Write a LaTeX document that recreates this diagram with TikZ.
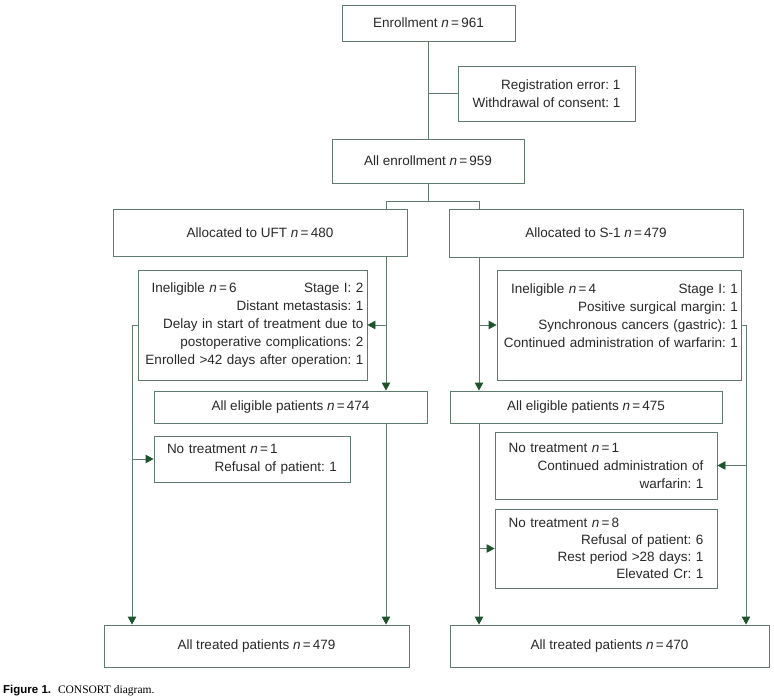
\documentclass[tikz,border=0pt]{standalone}
\usepackage{fontspec}
\setmainfont{Liberation Sans}
\newfontfamily\capserif{Liberation Serif}
\usepackage{tikz}
\usetikzlibrary{calc}
\usetikzlibrary{arrows.meta}
\frenchspacing
\hyphenpenalty=10000

\definecolor{boxgray}{RGB}{96,122,110}
\definecolor{arrowgreen}{RGB}{28,84,44}
\definecolor{txtgray}{RGB}{40,40,40}

\newcommand{\ncount}[1]{{\itshape n}\,=\,#1}

\tikzset{
	box/.style={rectangle, draw=boxgray, line width=0.9pt, text=txtgray, inner sep=0pt,
		font=\fontsize{13.5}{18}\selectfont},
	flow/.style={draw=boxgray, line width=0.9pt},
	arr/.style={flow, -{Triangle[length=8pt,width=8.5pt,color=arrowgreen]}}
}

\begin{document}
\begin{tikzpicture}[x=1pt, y=-1pt]
				\useasboundingbox (0,0) rectangle (774,698);
				
				\node[box, minimum width=173pt, minimum height=36pt] (A) at (428.5,23) {Enrollment \ncount{961}};
				\node[box, minimum width=177pt, minimum height=55pt, align=right] (B) at (546.5,93.5) {Registration error: 1\\Withdrawal of consent: 1};
				\node[box, minimum width=192pt, minimum height=44pt] (C) at (428,161) {All enrollment \ncount{959}};
				\node[box, minimum width=294pt, minimum height=47pt] (D) at (260,232.5) {Allocated to UFT \ncount{480}};
				\node[box, minimum width=294pt, minimum height=48pt] (E) at (596,233) {Allocated to S-1 \ncount{479}};
				\node[box, minimum width=229pt, minimum height=110pt, text width=222pt, align=right] (F) at (252.5,325)
					{\hspace*{10pt}Ineligible \ncount{6}\hfill Stage I: 2\\Distant metastasis: 1\\Delay in start of treatment due to\\postoperative complications: 2\\Enrolled >42 days after operation: 1};
				\node[box, minimum width=244pt, minimum height=110pt, text width=238pt, align=right] (G) at (619,325)
					{\hspace*{11pt}Ineligible \ncount{4}\hfill Stage I: 1\\Positive surgical margin: 1\\Synchronous cancers (gastric): 1\\Continued administration of warfarin: 1\\\mbox{}};
				\node[box, minimum width=273pt, minimum height=32pt] (H) at (290.5,407) {All eligible patients \ncount{474}};
				\node[box, minimum width=272pt, minimum height=32pt] (I) at (586,407) {All eligible patients \ncount{475}};
				\node[box, minimum width=196pt, minimum height=46pt, text width=170pt, align=right] (J) at (252,459)
					{No treatment \ncount{1}\hfill\mbox{}\\Refusal of patient: 1};
				\node[box, minimum width=222pt, minimum height=67pt, text width=195pt, align=right] (K) at (606,465.5)
					{No treatment \ncount{1}\hfill\mbox{}\\Continued administration of\\warfarin: 1};
				\node[box, minimum width=222pt, minimum height=79pt, text width=195pt, align=right, font=\fontsize{13.5}{17}\selectfont] (L) at (606,548.5)
					{No treatment \ncount{8}\hfill\mbox{}\\Refusal of patient: 6\\Rest period >28 days: 1\\Elevated Cr: 1};
				\node[box, minimum width=305pt, minimum height=42pt] (M) at (256.5,646) {All treated patients \ncount{479}};
				\node[box, minimum width=319pt, minimum height=42pt] (N) at (609.5,646) {All treated patients \ncount{470}};
				
				\node[anchor=west, inner sep=0pt, font=\fontsize{11.5}{13}\selectfont] (fig) at (3,691)
					{\textbf{Figure 1.}\hspace{0.6em}{\capserif CONSORT diagram.}};
				
				% flow lines
				\coordinate (s) at (428,201);
				\coordinate (uL) at (386,0);
				\coordinate (uO) at (132,0);
				\coordinate (sL) at (479,0);
				\coordinate (sO) at (746,0);
				
				\draw[flow] (A.south -| C.north) -- (C.north);
				\draw[flow] (B.west -| C.north) -- (B.west);
				\draw[flow] (C.south) -- (s) -| (D.north -| uL);
				\draw[flow] (s) -| (E.north -| sL);
				
				\draw[arr] (D.south -| uL) -- (H.north -| uL);
				\draw[arr] (F.east -| uL) -- (F.east);
				\draw[arr] (H.south -| uL) -- (M.north -| uL);
				\draw[arr] (F.west) -| (M.north -| uO);
				\draw[arr] (J.west -| uO) -- (J.west);
				
				\draw[arr] (E.south -| sL) -- (I.north -| sL);
				\draw[arr] (G.west -| sL) -- (G.west);
				\draw[arr] (I.south -| sL) -- (N.north -| sL);
				\draw[arr] (L.west -| sL) -- (L.west);
				\draw[arr] (G.east) -| (N.north -| sO);
				\draw[arr] (K.east -| sO) -- (K.east);
			\end{tikzpicture}
\end{document}
